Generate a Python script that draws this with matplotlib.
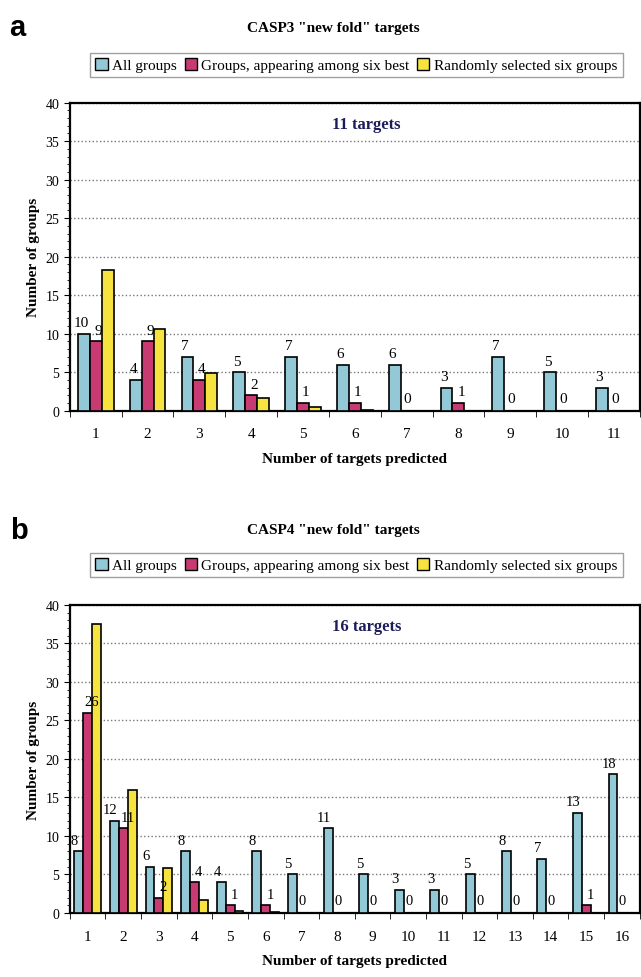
import numpy as np
import matplotlib.pyplot as plt
from matplotlib.patches import Patch

plt.rcParams['font.family'] = ['Liberation Serif', 'DejaVu Serif']

# данные, панель a (CASP3)
cats_a = np.arange(1, 12)
all_a = [10, 4, 7, 5, 7, 6, 6, 3, 7, 5, 3]
best_a = [9, 9, 4, 2, 1, 1, 0, 1, 0, 0, 0]
rand_a = [18.3, 10.6, 4.9, 1.7, 0.5, 0.1, 0, 0, 0, 0, 0]

# данные, панель b (CASP4)
cats_b = np.arange(1, 17)
all_b = [8, 12, 6, 8, 4, 8, 5, 11, 5, 3, 3, 5, 8, 7, 13, 18]
best_b = [26, 11, 2, 4, 1, 1, 0, 0, 0, 0, 0, 0, 0, 0, 1, 0]
rand_b = [37.5, 16, 5.8, 1.7, 0.3, 0.1, 0, 0, 0, 0, 0, 0, 0, 0, 0, 0]

series_names = ["All groups", "Groups, appearing among six best",
                "Randomly selected six groups"]
colors = ["#93c9d6", "#c83a72", "#f6e340"]


def draw_panel(fig, rect, cats, v_all, v_best, v_rand, title, letter, note,
               width, leg_y, fs, shift):
    ax = fig.add_axes(rect)
    x = cats.astype(float)
    ax.bar(x - width, v_all, width, color=colors[0], edgecolor='black', lw=1.2, zorder=3)
    ax.bar(x, v_best, width, color=colors[1], edgecolor='black', lw=1.2, zorder=3)
    ax.bar(x + width, v_rand, width, color=colors[2], edgecolor='black', lw=1.2, zorder=3)
    for xi, a, b in zip(x, v_all, v_best):
        ax.text(xi - width - shift, a + 0.6, str(a), ha='center', va='bottom', fontsize=fs)
        if b > 0:
            ax.text(xi + shift, b + 0.6, str(b), ha='center', va='bottom', fontsize=fs)
        else:
            ax.text(xi + 0.02, 1.6, "0", ha='center', va='center', fontsize=fs)
    ax.set_xlim(0.5, cats[-1] + 0.5)
    ax.set_ylim(0, 40)
    ax.set_yticks(range(0, 41, 5))
    ax.set_yticks(range(0, 41, 1), minor=True)
    ax.set_xticks(cats)
    ax.set_xticks(np.arange(0.5, cats[-1] + 1, 1), minor=True)
    ax.tick_params(axis='x', which='major', length=0, pad=12, labelsize=11)
    ax.tick_params(axis='x', which='minor', length=4)
    ax.tick_params(axis='y', which='major', length=4, labelsize=10)
    ax.tick_params(axis='y', which='minor', length=2)
    ax.yaxis.grid(True, linestyle=':', color='#777777', lw=1, zorder=0)
    for s in ax.spines.values():
        s.set_linewidth(1.6)
    ax.set_ylabel("Number of groups", fontweight='bold', fontsize=11)
    ax.set_xlabel("Number of targets predicted", fontweight='bold', fontsize=11,
                  labelpad=8)
    ax.text(0.52, 0.93, note, transform=ax.transAxes, ha='center', va='center',
            fontweight='bold', fontsize=12, color='#1c1c5a')
    top = rect[1] + rect[3]
    fig.text(0.52, top + 0.077, title, ha='center', va='center',
             fontweight='bold', fontsize=11)
    fig.text(0.015, top + 0.077, letter, ha='left', va='center',
             fontweight='bold', fontsize=21, family=['Liberation Sans', 'DejaVu Sans'])
    handles = [Patch(facecolor=c, edgecolor='black') for c in colors]
    fig.legend(handles, series_names, loc='center', bbox_to_anchor=(0.556, leg_y),
               ncol=3, frameon=True, fancybox=False, edgecolor='#888888',
               fontsize=11, handlelength=0.8, handleheight=0.8,
               handletextpad=0.3, columnspacing=0.5, borderpad=0.35)
    return ax


fig = plt.figure(figsize=(6.41, 9.78), dpi=100)
draw_panel(fig, [0.109, 0.579, 0.889, 0.315], cats_a, all_a, best_a, rand_a,
           'CASP3 "new fold" targets', "a", "11 targets", 0.23, 1 - 66 / 978,
           11, 0.05)
draw_panel(fig, [0.109, 0.0655, 0.889, 0.315], cats_b, all_b, best_b, rand_b,
           'CASP4 "new fold" targets', "b", "16 targets", 0.25, 1 - 566 / 978,
           10.5, 0.12)
fig.savefig("out.png", dpi=100)
